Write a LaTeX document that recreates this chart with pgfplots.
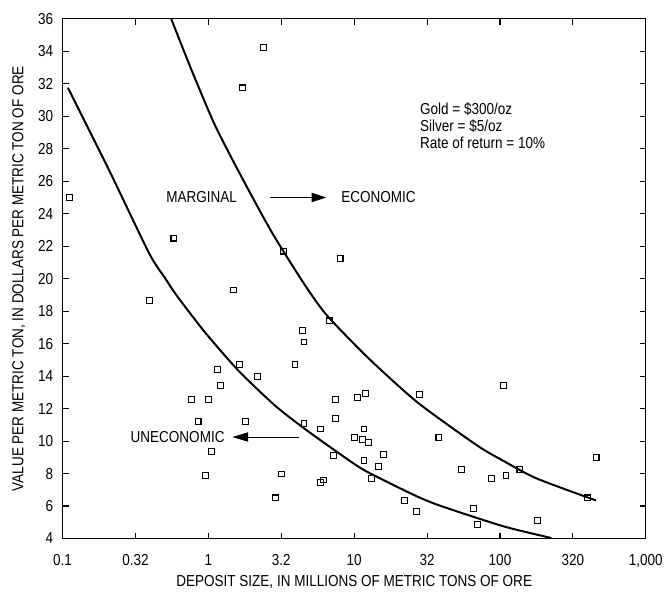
\documentclass[border=0pt]{standalone}
\usepackage{fontspec}
\setmainfont{Liberation Sans}[FakeStretch=0.85]
\usepackage{pgfplots}
\pgfplotsset{compat=1.18}
\usetikzlibrary{arrows.meta,calc}

\pgfplotstableread{
x y
2.40 34.25
1.72 31.75
0.111 25.0
0.58 22.5
3.26 21.7
8.0 21.25
1.49 19.3
0.396 18.67
6.78 17.4
4.40 16.8
4.53 16.1
1.15 14.43
1.64 14.7
3.93 14.7
2.18 13.96
1.21 13.4
0.77 12.57
1.0 12.57
7.45 12.57
10.6 12.68
12.0 12.94
28.1 12.86
105.6 13.4
0.85 11.2
1.8 11.2
4.53 11.1
7.45 11.37
5.88 10.74
11.67 10.74
10.1 10.2
11.4 10.1
12.5 9.9
38.1 10.2
1.05 9.35
7.25 9.1
15.9 9.17
456 9.0
11.67 8.8
14.76 8.43
54.3 8.25
137 8.25
110 7.88
87 7.7
13.15 7.7
0.95 7.87
3.17 7.97
5.88 7.44
6.17 7.6
2.88 6.5
22.1 6.32
26.7 5.66
65.9 5.85
70.5 4.85
181 5.1
396 6.5
}\deposits

\begin{document}
\fontsize{12}{14}\selectfont
\begin{tikzpicture}
\begin{axis}[
  scale only axis, width=440.25pt, height=392.25pt,
  xmode=log, xmin=0.1, xmax=1000, ymin=4, ymax=36,
  xtick={0.1,0.316228,1,3.16228,10,31.6228,100,316.228,1000},
  xticklabels={0.1,0.32,1,3.2,10,32,100,320,{1,000}},
  minor xtick={},
  ytick={4,6,...,36},
  tick align=inside, major tick length=4.5pt,
  axis line style={line width=0.8pt},
  tick style={line width=0.8pt, black},
  /pgf/number format/assume math mode=true,
  xticklabel style={yshift=-8pt},
  yticklabel style={xshift=-3pt},
  xlabel={DEPOSIT SIZE, IN MILLIONS OF METRIC TONS OF ORE},
  ylabel={VALUE PER METRIC TON, IN DOLLARS PER METRIC TON OF ORE},
  xlabel style={at={(axis description cs:0.5,-0.084)}, anchor=center},
  ylabel style={at={(axis description cs:-0.075,0.5)}, anchor=center, rotate=0},
  clip=false,
]
\addplot[black, line width=1.5pt, smooth, tension=0.4] coordinates {
(0.1087,31.76) (0.209,26.66) (0.392,21.57) (0.504,20.04) (0.611,18.92) (0.953,16.67) (1.61,14.33) (2.86,12.19) (4.57,10.76) (7.33,9.44) (11.7,8.21) (25.7,6.68) (39.1,6.01) (105.6,4.75) (225,4.03)
};
\addplot[black, line width=1.5pt, smooth, tension=0.4] coordinates {
(0.556,36) (0.772,32.78) (1.115,29.41) (1.69,26.26) (2.71,22.89) (4.46,19.78) (6.43,17.79) (12.4,15.14) (27.1,12.39) (69.4,9.74) (105.6,8.78) (178,7.7) (456,6.34)
};
\addplot[only marks, mark=square, mark size=2.2pt, mark options={black, line width=0.8pt, fill=white}] table[x=x,y=y] {\deposits};

\node[anchor=center] at (axis cs:0.9,25) {MARGINAL};
\node[anchor=west, inner sep=0pt] at (axis cs:8.13,25) {ECONOMIC};
\draw[line width=0.6pt, -{Triangle[length=11pt,width=7pt]}] (axis cs:2.66,25) -- (axis cs:6.43,25);
\node[anchor=center] at (axis cs:0.615,10.25) {UNECONOMIC};
\draw[line width=0.6pt, -{Triangle[length=12pt,width=7pt]}] (axis cs:4.17,10.25) -- (axis cs:1.46,10.25);
\node[anchor=north west, inner sep=0pt, align=left, font=\fontsize{12}{13}\selectfont] at (axis cs:28.2,30.85) {Gold = \$300/oz\\Silver = \$5/oz\\Rate of return = 10\%};
\end{axis}
\path ($(current axis.south west)+(-47.25pt,-39pt)$) rectangle ($(current axis.north east)+(13.5pt,14.25pt)$);
\end{tikzpicture}
\end{document}
